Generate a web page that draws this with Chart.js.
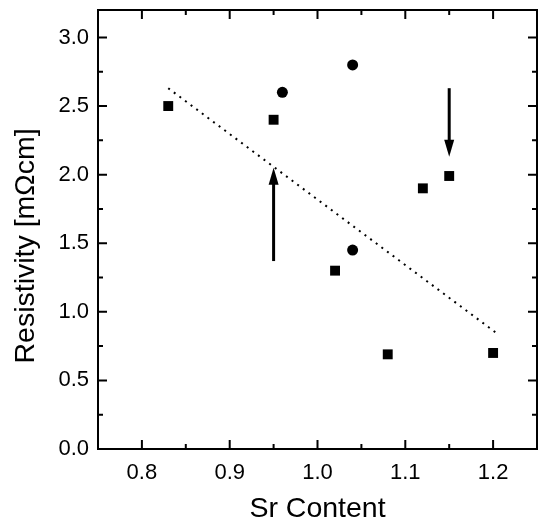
<!DOCTYPE html>
<html>
<head>
<meta charset="utf-8">
<script src="https://cdn.jsdelivr.net/npm/chart.js@4/dist/chart.umd.min.js"></script>
<style>
  html, body { margin: 0; padding: 0; background: #fff; }
  #wrap { width: 540px; height: 521px; }
</style>
</head>
<body>
<div id="wrap"><canvas id="chart" width="540" height="521"></canvas></div>
<script>
// data
const squareX = [0.83, 0.95, 1.02, 1.08, 1.12, 1.15, 1.20];
const squareY = [2.50, 2.40, 1.30, 0.69, 1.90, 1.99, 0.70];
const circleX = [0.96, 1.04, 1.04];
const circleY = [2.60, 2.80, 1.45];
const fitX = [0.83, 1.207];
const fitY = [2.63, 0.83];
// arrows: [x, yFrom, yTo]
const arrows = [[0.95, 1.37, 2.05], [1.15, 2.63, 2.13]];
const xTicks = [0.8, 0.9, 1.0, 1.1, 1.2];
const yTicks = [0.0, 0.5, 1.0, 1.5, 2.0, 2.5, 3.0];
const yTitle = 'Resistivity [mΩcm]';

const fontFam = '"Liberation Sans", Arial, Helvetica, sans-serif';
const toPts = (xs, ys) => xs.map((x, i) => ({ x: x, y: ys[i] }));

// frame + inward ticks on all four sides, the two arrows and the y title
const framePlugin = {
    id: 'frame',
    afterDatasetsDraw(chart) {
        const { ctx, chartArea: a, scales: { x, y } } = chart;
        ctx.save();
        ctx.strokeStyle = '#000';
        ctx.lineWidth = 2;
        ctx.strokeRect(a.left, a.top, a.right - a.left, a.bottom - a.top);
        ctx.beginPath();
        for (let v = 0.75; v <= 1.2501; v += 0.05) {
            const px = x.getPixelForValue(v);
            const major = Math.abs(v * 10 - Math.round(v * 10)) < 1e-6;
            const len = major ? 9 : 5;
            ctx.moveTo(px, a.bottom); ctx.lineTo(px, a.bottom - len);
            ctx.moveTo(px, a.top); ctx.lineTo(px, a.top + len);
        }
        for (let v = 0; v <= 3.2001; v += 0.25) {
            const py = y.getPixelForValue(v);
            const major = Math.abs(v * 2 - Math.round(v * 2)) < 1e-6;
            const len = major ? 9 : 5;
            ctx.moveTo(a.left, py); ctx.lineTo(a.left + len, py);
            ctx.moveTo(a.right, py); ctx.lineTo(a.right - len, py);
        }
        ctx.stroke();

        ctx.fillStyle = '#000';
        ctx.lineWidth = 3;
        arrows.forEach(([ax, y0, y1]) => {
            const px = x.getPixelForValue(ax);
            const p0 = y.getPixelForValue(y0), p1 = y.getPixelForValue(y1);
            const dir = p1 < p0 ? 1 : -1;
            ctx.beginPath();
            ctx.moveTo(px, p0); ctx.lineTo(px, p1 + dir * 10);
            ctx.stroke();
            ctx.beginPath();
            ctx.moveTo(px, p1);
            ctx.lineTo(px - 5, p1 + dir * 17);
            ctx.lineTo(px + 5, p1 + dir * 17);
            ctx.closePath();
            ctx.fill();
        });

        // y title sits a bit below the middle of the plot in the original
        ctx.translate(26, y.getPixelForValue(1.48));
        ctx.rotate(-Math.PI / 2);
        ctx.font = '28.5px ' + fontFam;
        ctx.textAlign = 'center';
        ctx.textBaseline = 'middle';
        ctx.fillText(yTitle, 0, 0);
        ctx.restore();
    }
};

new Chart(document.getElementById('chart'), {
    type: 'scatter',
    data: {
        datasets: [
            { data: toPts(squareX, squareY), pointStyle: 'rect', pointRadius: 7, backgroundColor: '#000', borderColor: '#000', borderWidth: 0 },
            { data: toPts(circleX, circleY), pointStyle: 'circle', pointRadius: 5.5, backgroundColor: '#000', borderColor: '#000', borderWidth: 0 },
            { data: toPts(fitX, fitY), showLine: true, pointRadius: 0, borderColor: '#000', borderWidth: 2, borderDash: [2, 5], fill: false }
        ]
    },
    options: {
        responsive: false,
        animation: false,
        layout: { autoPadding: false, padding: { top: 10, right: 3, left: 0, bottom: 0 } },
        plugins: { legend: { display: false }, tooltip: { enabled: false } },
        scales: {
            x: {
                type: 'linear', min: 0.75, max: 1.25,
                afterFit: s => { s.height = 72; s.paddingLeft = 0; s.paddingRight = 0; },
                afterBuildTicks: s => { s.ticks = xTicks.map(v => ({ value: v })); },
                grid: { display: false, drawTicks: false },
                border: { display: false },
                ticks: { color: '#000', padding: 11, font: { family: fontFam, size: 22 }, callback: v => v.toFixed(1) },
                title: { display: true, text: 'Sr Content', color: '#000', padding: { bottom: -2 }, font: { family: fontFam, size: 28.5, lineHeight: 1 } }
            },
            y: {
                type: 'linear', min: 0, max: 3.2,
                afterFit: s => { s.width = 98; s.paddingTop = 0; s.paddingBottom = 0; },
                afterBuildTicks: s => { s.ticks = yTicks.map(v => ({ value: v })); },
                grid: { display: false, drawTicks: false },
                border: { display: false },
                ticks: { color: '#000', padding: 9, font: { family: fontFam, size: 22 }, callback: v => v.toFixed(1) },
                title: { display: false }
            }
        }
    },
    plugins: [framePlugin]
});
</script>
</body>
</html>
